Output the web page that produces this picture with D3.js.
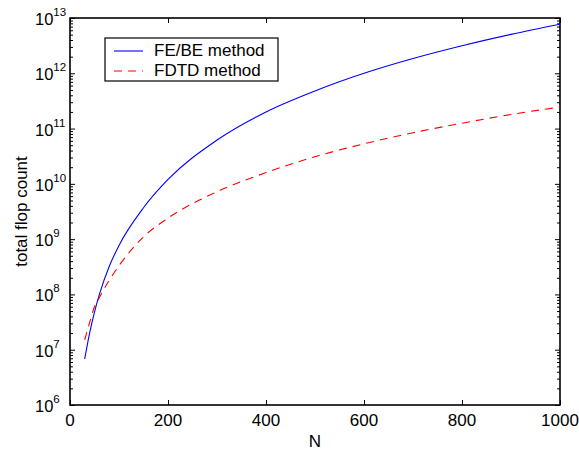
<!DOCTYPE html>
<html lang="en">
<head>
<meta charset="UTF-8" />
<title>total flop count vs N</title>
<style>
  body { margin: 0; background: #fff; }
  svg { display: block; font-family: "Liberation Sans", Arial, Helvetica, sans-serif; }
</style>
</head>
<body>
<svg width="579" height="455"></svg>
<script src="https://d3js.org/d3.v7.min.js"></script>
<script>
// values
var N = [30, 40, 50, 60, 80, 100, 150, 200, 300, 400, 500, 600, 700, 800, 900, 1000];
var feBe = [6.8e6, 2.0e7, 4.8e7, 1.0e8, 3.2e8, 7.7e8, 3.7e9, 1.2e10, 6.2e10, 2.0e11, 4.8e11, 1.0e12, 1.85e12, 3.15e12, 5.05e12, 7.7e12];
var fdtd = [1.5e7, 3.1e7, 6.0e7, 8.8e7, 1.8e8, 3.3e8, 1.1e9, 2.4e9, 7.2e9, 1.6e10, 3.1e10, 5.3e10, 8.4e10, 1.25e11, 1.8e11, 2.45e11];
var xTicks = [0, 200, 400, 600, 800, 1000];
var yExps = [6, 7, 8, 9, 10, 11, 12, 13];
var seriesNames = ["FE/BE method", "FDTD method"];

var svg = d3.select("svg"),
    margin = {top: 18, right: 19, bottom: 50, left: 70},
    width = 579 - margin.left - margin.right,
    height = 455 - margin.top - margin.bottom,
    g = svg.append("g").attr("transform", "translate(" + margin.left + "," + margin.top + ")");

var x = d3.scaleLinear().domain([0, 1000]).range([0, width]);
var y = d3.scaleLog().domain([1e6, 1e13]).range([height, 0]);

var minor = y.ticks().filter(function(v) {
    var e = Math.log10(v);
    return Math.abs(e - Math.round(e)) > 1e-9;
});
var major = yExps.map(function(e) { return Math.pow(10, e); });

function styleAxis(sel) {
    sel.select(".domain").remove();
    sel.selectAll("line").attr("stroke", "#000").attr("stroke-width", 1);
    sel.selectAll("text").remove();
}

// ticks, pointing inward on all four sides
g.append("g").attr("transform", "translate(0," + height + ")")
    .call(d3.axisBottom(x).tickValues(xTicks).tickSize(-5)).call(styleAxis);
g.append("g")
    .call(d3.axisTop(x).tickValues(xTicks).tickSize(-5)).call(styleAxis);
g.append("g")
    .call(d3.axisLeft(y).tickValues(major).tickSize(-5)).call(styleAxis);
g.append("g")
    .call(d3.axisLeft(y).tickValues(minor).tickSize(-3)).call(styleAxis);
g.append("g").attr("transform", "translate(" + width + ",0)")
    .call(d3.axisRight(y).tickValues(major).tickSize(-5)).call(styleAxis);
g.append("g").attr("transform", "translate(" + width + ",0)")
    .call(d3.axisRight(y).tickValues(minor).tickSize(-3)).call(styleAxis);

// box
g.append("rect")
    .attr("width", width).attr("height", height)
    .attr("fill", "none").attr("stroke", "#000").attr("stroke-width", 1.6);

// tick labels
g.selectAll(".xlab").data(xTicks).enter().append("text")
    .attr("x", function(d) { return x(d); })
    .attr("y", height + 21)
    .attr("text-anchor", "middle")
    .attr("font-size", "17px")
    .text(function(d) { return d; });

var ylab = g.selectAll(".ylab").data(yExps).enter().append("text")
    .attr("x", -35)
    .attr("y", function(d) { return y(Math.pow(10, d)) + 7; })
    .attr("font-size", "16.5px");
ylab.append("tspan").text("10");
ylab.append("tspan").attr("dy", -9).attr("font-size", "11.5px")
    .text(function(d) { return d; });

// axis titles
svg.append("text")
    .attr("x", margin.left + width / 2)
    .attr("y", 447)
    .attr("text-anchor", "middle")
    .attr("font-size", "17px")
    .text("N");

svg.append("text")
    .attr("transform", "translate(27," + (margin.top + height / 2) + ") rotate(-90)")
    .attr("text-anchor", "middle")
    .attr("font-size", "17px")
    .text("total flop count");

// curves
var line = d3.line()
    .x(function(d) { return x(d[0]); })
    .y(function(d) { return y(d[1]); })
    .curve(d3.curveMonotoneX);

g.append("path")
    .datum(d3.zip(N, feBe))
    .attr("fill", "none")
    .attr("stroke", "#0000ff")
    .attr("stroke-width", 1.1)
    .attr("d", line);

g.append("path")
    .datum(d3.zip(N, fdtd))
    .attr("fill", "none")
    .attr("stroke", "#ff0000")
    .attr("stroke-width", 1.1)
    .attr("stroke-dasharray", "8,6")
    .attr("d", line);

// legend
var legend = svg.append("g").attr("transform", "translate(105,38)");
legend.append("rect")
    .attr("width", 173).attr("height", 43)
    .attr("fill", "#fff").attr("stroke", "#000").attr("stroke-width", 1.2);

var items = legend.selectAll(".item")
    .data(seriesNames)
    .enter().append("g")
    .attr("transform", function(d, i) { return "translate(0," + (13 + i * 20) + ")"; });

items.append("line")
    .attr("x1", 9).attr("x2", 38)
    .attr("stroke", function(d, i) { return i === 0 ? "#0000ff" : "#ff0000"; })
    .attr("stroke-width", 1.1)
    .attr("stroke-dasharray", function(d, i) { return i === 0 ? null : "8,6"; });

items.append("text")
    .attr("x", 49)
    .attr("y", 5)
    .attr("font-size", "17px")
    .text(function(d) { return d; });
</script>
</body>
</html>
